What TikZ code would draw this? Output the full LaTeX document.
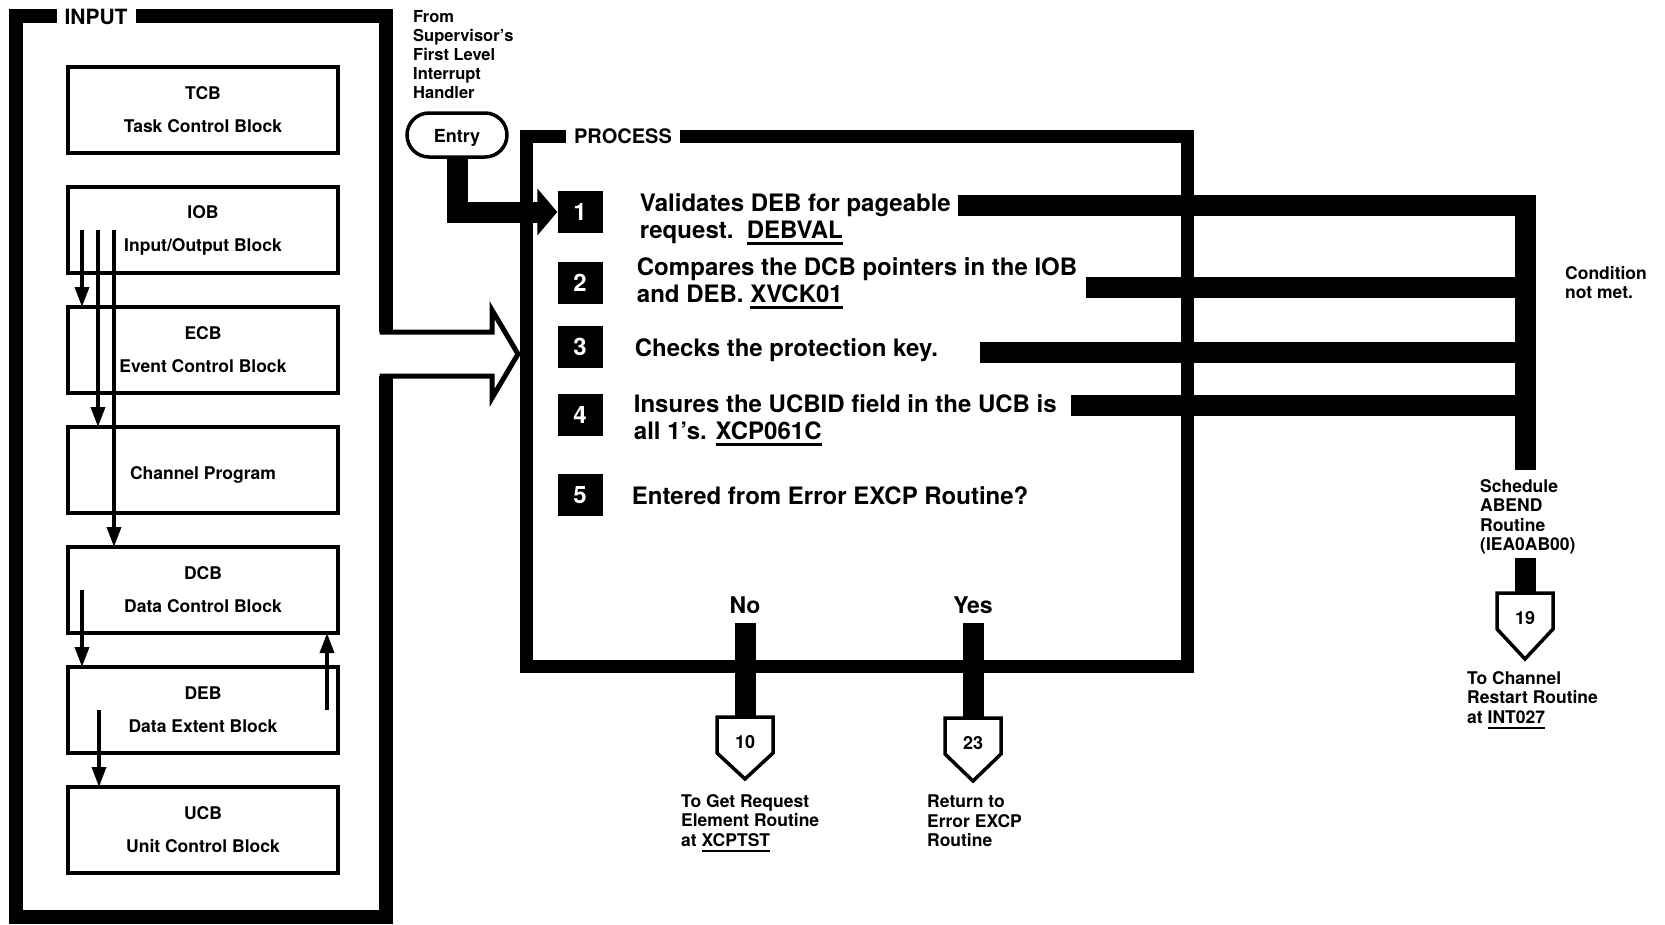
\documentclass[tikz,border=0pt]{standalone}
\usepackage{fontspec}
\setmainfont{TeX Gyre Heros}
\usepackage{tikz}
\usetikzlibrary{arrows.meta, positioning}
\newcommand{\undl}[1]{\setbox0=\hbox{#1}\rlap{\rule[-6pt]{\wd0}{2.4pt}}\box0}

\begin{document}
\begin{tikzpicture}[
  x=1pt, y=-1pt,
  box/.style={draw, line width=3.5pt, outer sep=0pt, align=center, minimum width=270pt, minimum height=86pt, font=\fontsize{17.5}{21}\selectfont\bfseries, execute at begin node={\rule{0pt}{23pt}}},
  framebar/.style={line width=14pt},
  framelabel/.style={fill=white, inner xsep=8pt, inner ysep=2pt, font=\fontsize{21}{21}\selectfont\bfseries},
  arrow/.style={line width=3.5pt, -{Triangle[length=20pt, width=14pt]}},
  bar/.style={line width=21pt},
  terminal/.style={draw, line width=3.5pt, rounded corners=22pt, minimum width=100pt, minimum height=44pt, text height=17pt, text depth=2pt, font=\fontsize{18}{18}\selectfont\bfseries},
  num/.style={fill=black, text=white, minimum width=45pt, minimum height=42pt, inner sep=0pt, font=\fontsize{24}{24}\selectfont\bfseries},
  steptext/.style={align=left, inner sep=0pt, font=\fontsize{24}{27.5}\selectfont\bfseries},
  note/.style={align=left, inner sep=0pt, anchor=north west, font=\fontsize{17.5}{19.5}\selectfont\bfseries},
  answer/.style={inner sep=0pt, font=\fontsize{23}{23}\selectfont\bfseries},
  offpage/.style={outer sep=0pt, inner sep=0pt, minimum width=56pt, minimum height=36pt, text height=26pt, text depth=0pt, font=\fontsize{18}{18}\selectfont\bfseries},
  pent/.style={line width=3.5pt},
  node distance=34pt
]
\useasboundingbox (0,0) rectangle (1665,924);
\fill[white] (0,0) rectangle (1665,924);

\draw[framebar] (386,332) -- (386,16) -- (16,16) -- (16,917) -- (386,917) -- (386,376);
\node[framelabel] at (96,17) {INPUT};
\draw[framebar, line width=13pt] (526,136) rectangle (1187,666);
\node[framelabel, font=\fontsize{20}{20}\selectfont\bfseries] at (623,136) {PROCESS};
\draw[line width=5pt] (379.5,332) -- (492,332) -- (492,310) -- (518,354) -- (492,398) -- (492,376) -- (379.5,376);

\node[box] (tcb) at (203,110) {TCB\\[12pt]Task Control Block};
\node[box, below=of tcb] (iob) {IOB\\[12pt]Input/Output Block};
\node[box, below=of iob] (ecb) {ECB\\[12pt]Event Control Block};
\node[box, below=of ecb] (chan) {Channel Program};
\node[box, below=of chan] (dcb) {DCB\\[12pt]Data Control Block};
\node[box, below=of dcb] (deb) {DEB\\[12pt]Data Extent Block};
\node[box, below=of deb] (ucb) {UCB\\[12pt]Unit Control Block};
\draw[arrow] ([xshift=14pt]iob.west) -- ([xshift=14pt]ecb.north west);
\draw[arrow] ([xshift=30pt]iob.west) -- ([xshift=30pt]chan.north west);
\draw[arrow] ([xshift=46pt]iob.west) -- ([xshift=46pt]dcb.north west);
\draw[arrow] ([xshift=14pt]dcb.west) -- ([xshift=14pt]deb.north west);
\draw[arrow] ([xshift=-11pt]deb.east) -- ([xshift=-11pt]dcb.south east);
\draw[arrow] ([xshift=31pt]deb.west) -- ([xshift=31pt]ucb.north west);

\node[note, font=\fontsize{16.5}{19}\selectfont\bfseries] (from) at (413,10) {From\\Supervisor's\\First Level\\Interrupt\\Handler};
\node[terminal] (entry) at (457,135) {Entry};

\node[num] (s1) at (580,212) {1};
\node[num] (s2) at (580,283) {2};
\node[num] (s3) at (580,347) {3};
\node[num] (s4) at (580,415) {4};
\node[num] (s5) at (580,495) {5};
\node[steptext, right=37pt of s1, yshift=-7pt] (t1) {Validates DEB for pageable\\request.~~\undl{DEBVAL}};
\node[steptext, right=34pt of s2] (t2) {Compares the DCB pointers in the IOB\\and DEB. \undl{XVCK01}};
\node[steptext, right=32pt of s3, yshift=-3pt] (t3) {Checks the protection key.};
\node[steptext, right=31pt of s4, yshift=-5pt] (t4) {Insures the UCBID field in the UCB is\\all 1's. \undl{XCP061C}};
\node[steptext, right=29pt of s5, yshift=-1pt] (t5) {Entered from Error EXCP Routine?};
\draw[bar, -{Triangle[length=20pt, width=46pt]}] (entry.south) |- (s1.west);

\coordinate (cend) at (1525,470);
\draw[bar] ([xshift=7pt, yshift=14pt]t1.east) -| (cend);
\draw[bar] ([xshift=9pt, yshift=-4pt]t2.east) -| (cend);
\draw[bar] ([xshift=42pt, yshift=-2pt]t3.east) -| (cend);
\draw[bar] ([xshift=14pt, yshift=15pt]t4.east) -| (cend);
\node[note] (cond) at (1565,266) {Condition\\not met.};
\node[note] (abend) at (1480,479) {Schedule\\ABEND\\Routine\\(IEA0AB00)};

\node[offpage] (c19) at (1525,611) {19};
\draw[bar] (c19.north) -- ++(0,-35);
\draw[pent] (c19.south west) -- (c19.north west) -- (c19.north east) -- (c19.south east) -- ([yshift=-30pt]c19.south) -- cycle;
\node[note] (restart) at (1467,671) {To Channel\\Restart Routine\\at \undl{INT027}};

\node[answer] (no) at (745,605) {No};
\node[answer] (yes) at (973,605) {Yes};
\node[offpage] (c10) at (745,735) {10};
\node[offpage] (c23) at (973,736) {23};
\draw[bar] ([yshift=-9pt]no.south) -- (c10.north);
\draw[bar] ([yshift=-9pt]yes.south) -- (c23.north);
\draw[pent] (c10.south west) -- (c10.north west) -- (c10.north east) -- (c10.south east) -- ([yshift=-26pt]c10.south) -- cycle;
\draw[pent] (c23.south west) -- (c23.north west) -- (c23.north east) -- (c23.south east) -- ([yshift=-27pt]c23.south) -- cycle;
\node[note] (getreq) at (681,794) {To Get Request\\Element Routine\\at \undl{XCPTST}};
\node[note] (errret) at (927,795) {Return to\\Error EXCP\\Routine};
\end{tikzpicture}
\end{document}
